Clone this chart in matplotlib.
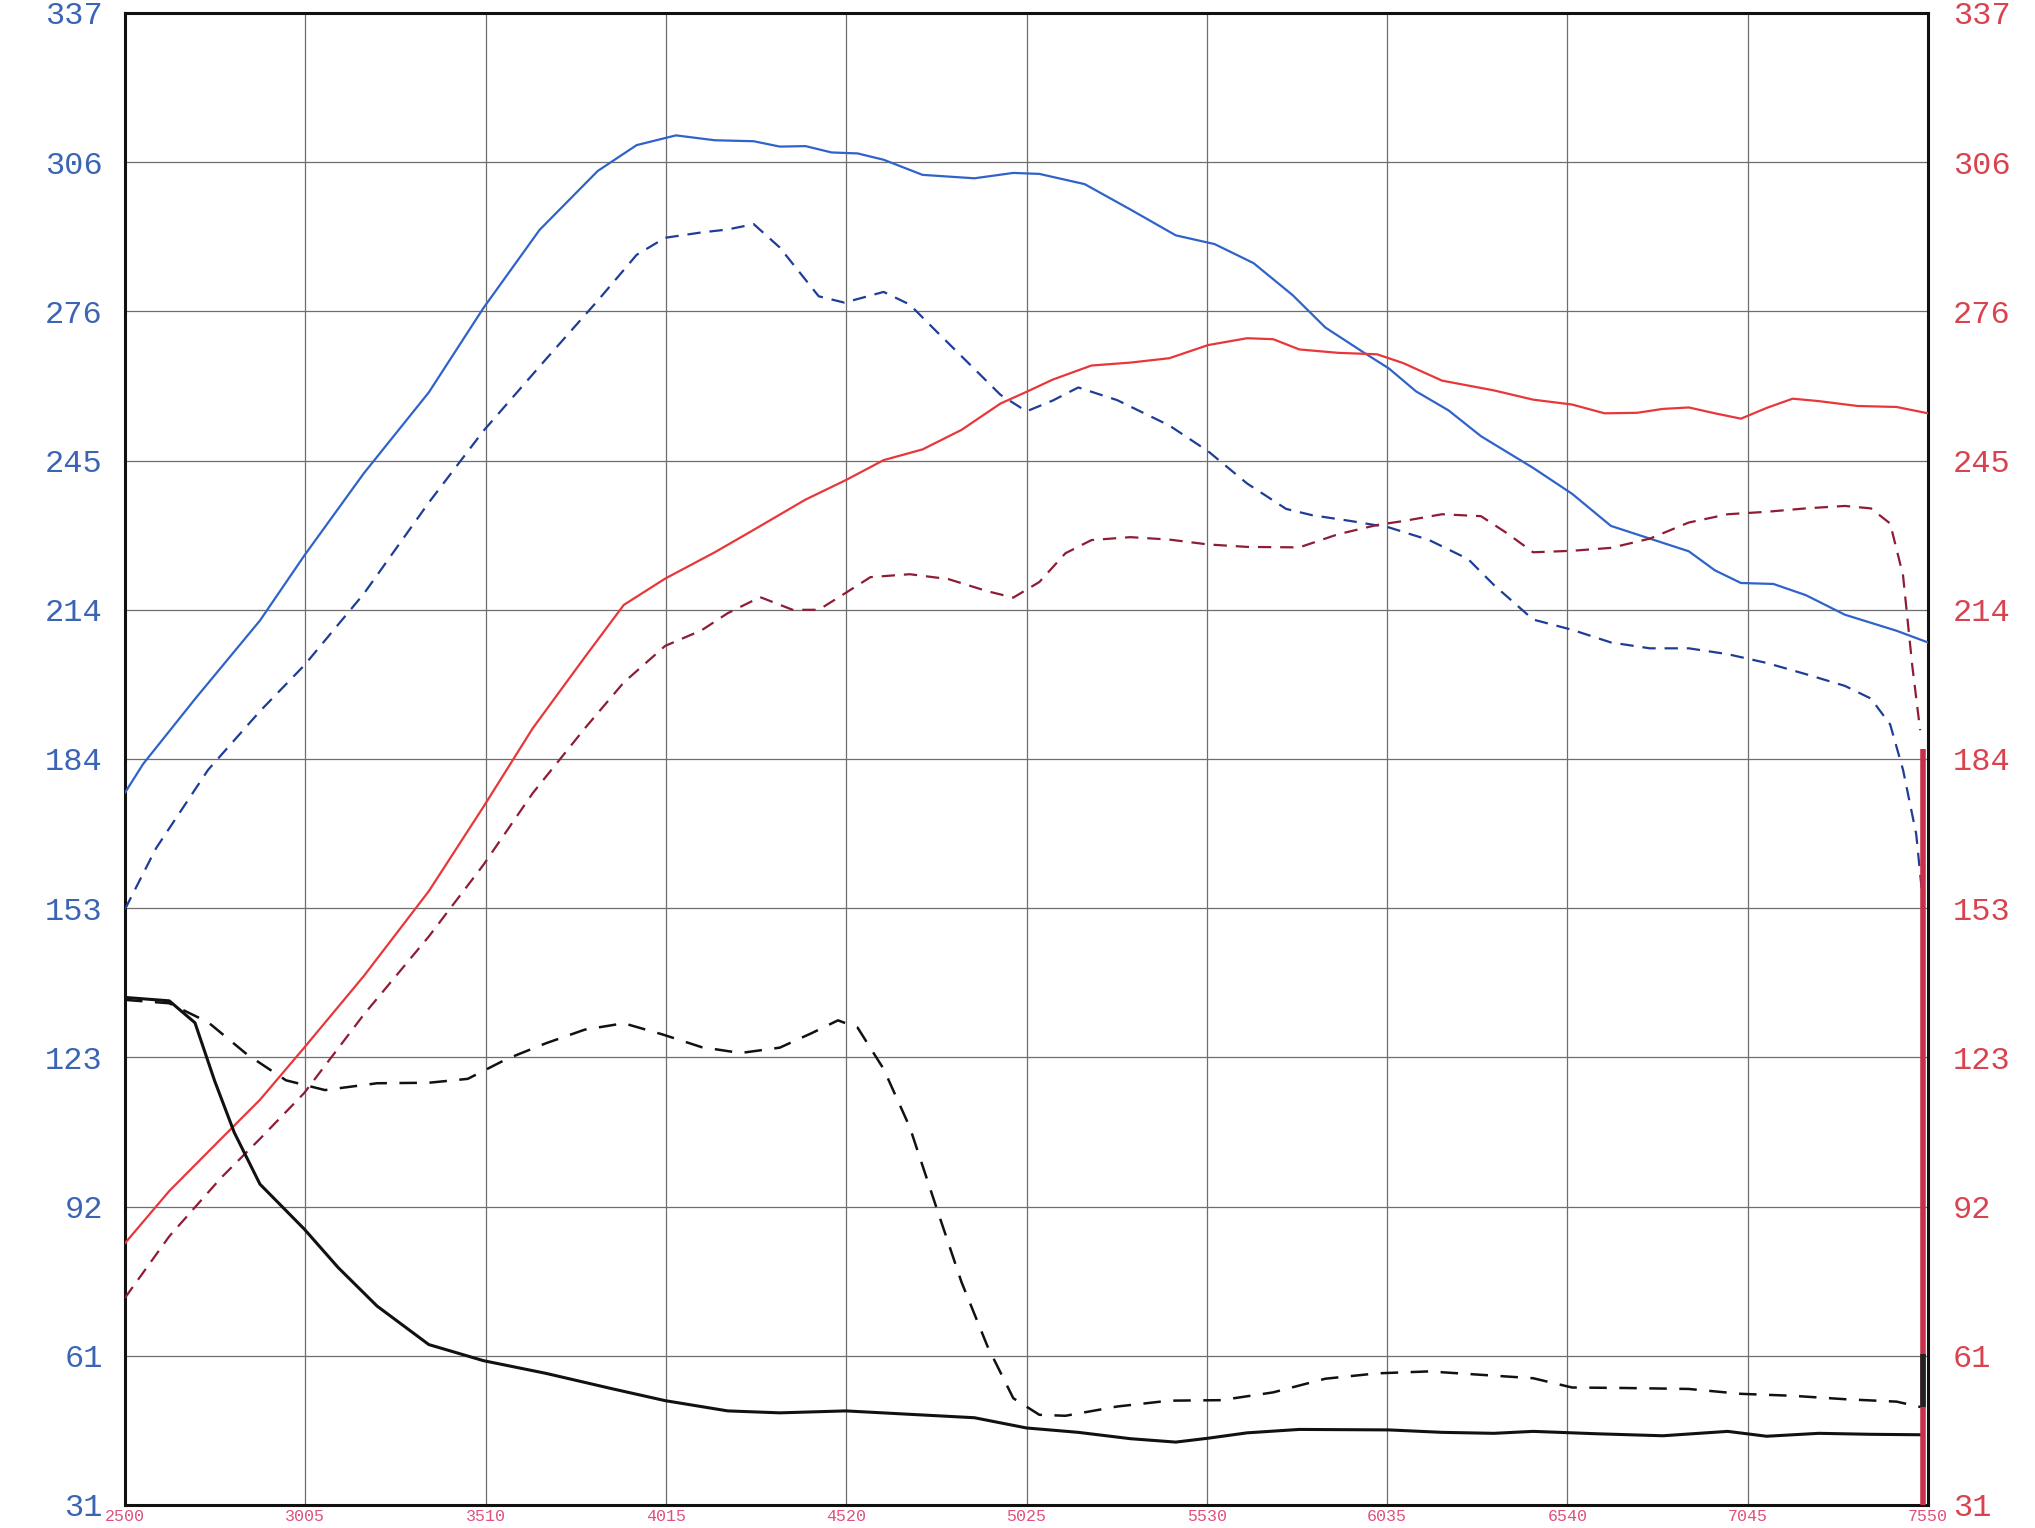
import matplotlib
matplotlib.use('Agg')
import matplotlib.pyplot as plt
import numpy as np

# ---------------- data ----------------
rpm_ticks = [2500, 3005, 3510, 4015, 4520, 5025, 5530, 6035, 6540, 7045, 7550]
rpm_labels = ["2500", "3005", "3510", "4015", "4520", "5025", "5530", "6035", "6540", "7045", "7550"]
y_labels = ["31", "61", "92", "123", "153", "184", "214", "245", "276", "306", "337"]

blue_solid_rpm = [2500, 2551, 2696, 2878, 3002, 3169, 3351, 3504, 3661, 3824,
                  3933, 4043, 4152, 4261, 4334, 4406, 4479, 4552, 4625, 4734,
                  4879, 4988, 5061, 5188, 5316, 5443, 5552, 5661, 5771, 5862,
                  5971, 6040, 6116, 6207, 6298, 6444, 6553, 6662, 6771, 6880,
                  6953, 7026, 7117, 7208, 7317, 7462, 7550]
blue_solid = [177.1, 183.0, 196.3, 212.4, 225.7, 242.6, 259.2, 276.5, 292.5, 304.6,
              309.9, 311.9, 310.9, 310.7, 309.6, 309.7, 308.4, 308.2, 306.9, 303.8,
              303.1, 304.2, 304.0, 301.9, 296.7, 291.4, 289.6, 285.7, 279.1, 272.5,
              267.3, 264.1, 259.4, 255.5, 250.2, 243.7, 238.4, 231.8, 229.2, 226.6,
              222.7, 220.1, 219.9, 217.6, 213.6, 210.3, 207.9]

blue_dash_rpm = [2500, 2587, 2733, 2878, 3002, 3169, 3351, 3504, 3679, 3824,
                 3933, 4013, 4115, 4188, 4261, 4334, 4443, 4515, 4625, 4698,
                 4770, 4879, 4952, 5025, 5098, 5170, 5279, 5425, 5534, 5643,
                 5752, 5825, 5934, 6040, 6153, 6262, 6334, 6444, 6553, 6662,
                 6771, 6880, 6989, 7098, 7208, 7317, 7390, 7444, 7480, 7517, 7535]
blue_dash = [153.2, 165.7, 181.8, 193.8, 203.2, 217.9, 236.6, 251.3, 266.0, 278.0,
             287.4, 290.9, 292.0, 292.6, 293.7, 288.9, 278.9, 277.6, 279.8, 277.2,
             271.9, 264.0, 258.7, 255.3, 257.5, 260.2, 257.6, 252.4, 247.1, 240.5,
             235.3, 234.0, 232.8, 231.5, 228.9, 225.0, 219.7, 212.6, 210.5, 207.9,
             206.7, 206.7, 205.5, 203.7, 201.4, 199.0, 196.4, 191.1, 181.8, 168.6, 155.3]

red_solid_rpm = [2500, 2624, 2769, 2878, 3002, 3169, 3351, 3504, 3642, 3788,
                 3897, 4013, 4152, 4261, 4406, 4519, 4625, 4734, 4843, 4952,
                 5025, 5098, 5207, 5316, 5425, 5534, 5643, 5716, 5789, 5898,
                 6007, 6080, 6189, 6334, 6444, 6553, 6644, 6735, 6807, 6880,
                 6953, 7026, 7098, 7171, 7244, 7353, 7462, 7550]
red_solid = [84.7, 95.4, 106.1, 114.1, 124.8, 139.5, 156.9, 174.2, 190.3, 204.9,
             215.6, 221.0, 226.4, 231.0, 237.2, 241.2, 245.3, 247.5, 251.5, 256.9,
             259.3, 261.8, 264.7, 265.3, 266.2, 268.9, 270.3, 270.1, 268.0, 267.3,
             267.0, 265.2, 261.6, 259.6, 257.7, 256.7, 254.9, 255.0, 255.8, 256.1,
             254.9, 253.8, 256.0, 257.9, 257.4, 256.4, 256.2, 254.9]

red_dash_rpm = [2500, 2624, 2769, 2878, 3002, 3169, 3351, 3504, 3642, 3788,
                3897, 4013, 4115, 4188, 4279, 4370, 4443, 4515, 4588, 4698,
                4806, 4916, 4988, 5061, 5134, 5207, 5316, 5425, 5534, 5643,
                5789, 5898, 6007, 6080, 6189, 6298, 6371, 6444, 6553, 6662,
                6771, 6880, 6989, 7098, 7208, 7317, 7390, 7444, 7480, 7506, 7528]
red_dash = [73.5, 86.1, 98.1, 106.1, 115.5, 131.6, 147.6, 162.3, 177.0, 190.3,
            199.7, 207.2, 210.4, 213.9, 217.2, 214.6, 214.6, 217.9, 221.3, 221.9,
            220.9, 218.4, 217.1, 220.3, 226.2, 228.9, 229.5, 229.0, 228.0, 227.5,
            227.4, 230.1, 232.0, 232.8, 234.2, 233.8, 230.3, 226.4, 226.7, 227.3,
            229.2, 232.5, 234.2, 234.7, 235.4, 235.9, 235.4, 232.3, 221.7, 203.1, 189.9]

black_solid_rpm = [2500, 2624, 2696, 2751, 2806, 2878, 3002, 3097, 3206, 3351,
                   3504, 3679, 3861, 4013, 4188, 4334, 4519, 4698, 4879, 5025,
                   5170, 5316, 5443, 5534, 5643, 5789, 6040, 6189, 6334, 6444,
                   6626, 6807, 6989, 7098, 7244, 7390, 7535]
black_solid = [135.1, 134.4, 129.9, 118.0, 107.4, 96.8, 87.6, 79.7, 71.8, 63.9,
               60.6, 58.0, 54.9, 52.4, 50.3, 49.9, 50.3, 49.6, 48.9, 46.8,
               45.9, 44.6, 43.9, 44.7, 45.8, 46.5, 46.4, 45.9, 45.7, 46.1,
               45.6, 45.2, 46.1, 45.1, 45.7, 45.5, 45.4]

black_dash_rpm = [2500, 2624, 2733, 2842, 2951, 3060, 3206, 3351, 3460, 3570,
                  3679, 3788, 3897, 4006, 4115, 4224, 4334, 4424, 4497, 4552,
                  4625, 4698, 4770, 4843, 4916, 4988, 5061, 5134, 5279, 5425,
                  5570, 5716, 5862, 6007, 6153, 6298, 6444, 6553, 6698, 6880,
                  7026, 7171, 7317, 7462, 7535]
black_dash = [134.6, 133.9, 130.0, 123.4, 118.1, 116.1, 117.5, 117.6, 118.4, 122.5,
              125.7, 128.5, 129.8, 127.5, 124.9, 123.7, 124.8, 127.8, 130.4, 128.9,
              120.4, 108.5, 92.6, 76.7, 63.5, 52.9, 49.5, 49.3, 51.2, 52.4,
              52.5, 54.1, 56.9, 58.0, 58.4, 57.7, 57.0, 55.1, 55.0, 54.8,
              53.8, 53.4, 52.7, 52.2, 51.0]

# end-of-run drop markers at the right edge
end_rpm = 7535
red_drop = [20, 186]
black_drop = [51, 62]

# ---------------- figure ----------------
W, H, DPI = 2035, 1528, 100
fig = plt.figure(figsize=(W / DPI, H / DPI), dpi=DPI)
fig.patch.set_facecolor('white')
ax = fig.add_axes([125 / W, 1 - 1505 / H, (1928 - 125) / W, (1505 - 13) / H])

ymin, ymax = 31, 337
xmin, xmax = rpm_ticks[0], rpm_ticks[-1]
ax.set_xlim(xmin, xmax)
ax.set_ylim(ymin, ymax)
ytick_pos = np.linspace(ymin, ymax, len(y_labels))

grid_c = '#6e6e6e'
for x in rpm_ticks[1:-1]:
    ax.axvline(x, color=grid_c, lw=0.9, zorder=1)
for y in ytick_pos[1:-1]:
    ax.axhline(y, color=grid_c, lw=0.9, zorder=1)

ax.plot(blue_solid_rpm, blue_solid, color='#2f63c9', lw=1.6, zorder=3)
ax.plot(blue_dash_rpm, blue_dash, color='#1d3d96', lw=1.6, dashes=(6, 4), zorder=3)
ax.plot(red_solid_rpm, red_solid, color='#e8373a', lw=1.6, zorder=3)
ax.plot(red_dash_rpm, red_dash, color='#8e1c34', lw=1.6, dashes=(6, 4), zorder=3)
ax.plot(black_solid_rpm, black_solid, color='#111111', lw=2.2, zorder=3)
ax.plot(black_dash_rpm, black_dash, color='#111111', lw=1.8, dashes=(7, 5), zorder=3)
ax.plot([end_rpm, end_rpm], red_drop, color='#c8304a', lw=4, zorder=4, solid_capstyle='butt')
ax.plot([end_rpm, end_rpm], black_drop, color='#222222', lw=4, zorder=5, solid_capstyle='butt')

for s in ax.spines.values():
    s.set_linewidth(2.2)
    s.set_color('#111111')

font = dict(family=['Liberation Mono', 'DejaVu Sans Mono'], size=23)

# left ticks
ax.set_yticks(ytick_pos)
ax.set_yticklabels(y_labels, color='#3b64b5', fontdict=font)
ax.tick_params(axis='y', length=0, pad=16, left=True, labelleft=True)

# right ticks
ax2 = ax.twinx()
ax2.set_ylim(ymin, ymax)
ax2.set_yticks(ytick_pos)
ax2.set_yticklabels(y_labels, color='#d9434f', fontdict=font)
ax2.tick_params(axis='y', length=0, pad=18)
for s in ax2.spines.values():
    s.set_visible(False)

# bottom (rpm) labels, squeezed into the thin strip under the frame
ax.set_xticks(rpm_ticks)
ax.set_xticklabels(rpm_labels, color='#e0507a',
                   fontdict=dict(family=['Liberation Mono', 'DejaVu Sans Mono'], size=12))
ax.tick_params(axis='x', length=0, pad=3)

fig.savefig('out.png', dpi=DPI, facecolor='white')
